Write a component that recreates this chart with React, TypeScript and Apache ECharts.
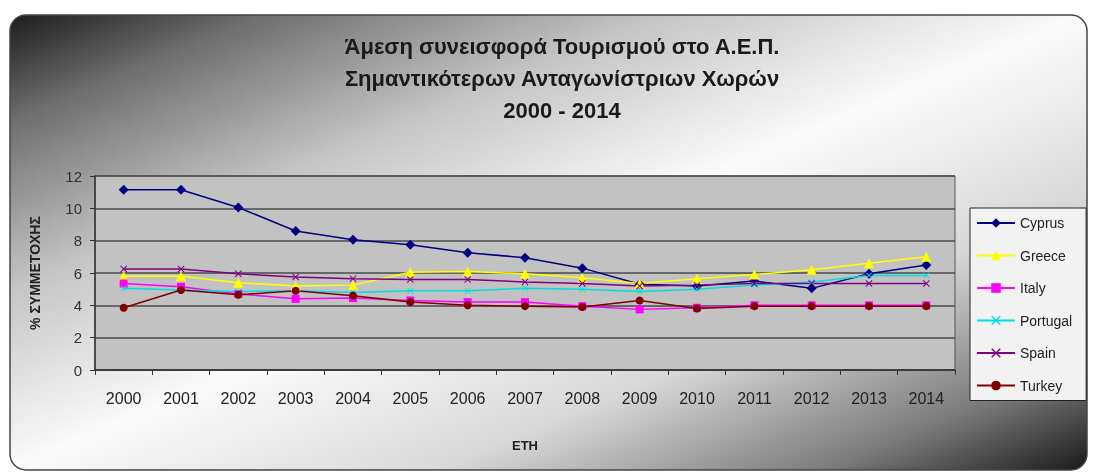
import React, { useEffect, useRef } from "react";
import * as echarts from "echarts";

const years = ["2000","2001","2002","2003","2004","2005","2006","2007","2008","2009","2010","2011","2012","2013","2014"];
const cyprus = [11.15, 11.15, 10.05, 8.6, 8.05, 7.75, 7.25, 6.95, 6.3, 5.3, 5.2, 5.5, 5.05, 5.95, 6.5];
const greece = [5.8, 5.8, 5.4, 5.2, 5.25, 6.05, 6.1, 5.95, 5.7, 5.35, 5.65, 5.9, 6.2, 6.6, 7.0];
const italy = [5.35, 5.15, 4.7, 4.4, 4.45, 4.3, 4.2, 4.2, 3.95, 3.75, 3.85, 4.0, 4.0, 4.0, 4.0];
const portugal = [5.05, 4.95, 4.85, 4.9, 4.8, 4.9, 4.9, 5.05, 5.0, 4.85, 5.0, 5.25, 5.45, 5.85, 5.85];
const spain = [6.25, 6.25, 5.95, 5.75, 5.65, 5.6, 5.6, 5.45, 5.35, 5.2, 5.25, 5.35, 5.35, 5.35, 5.35];
const turkey = [3.85, 4.95, 4.65, 4.9, 4.6, 4.2, 4.0, 3.95, 3.9, 4.3, 3.8, 3.95, 3.95, 3.95, 3.95];
const yTicks = [0, 2, 4, 6, 8, 10, 12];

const xShape = "path://M0,1 L1,0 L5,4 L9,0 L10,1 L6,5 L10,9 L9,10 L5,6 L1,10 L0,9 L4,5 Z";

export default function App() {
  const ref = useRef<HTMLDivElement>(null);
  useEffect(() => {
    if (!ref.current) return;
    const chart = echarts.init(ref.current, undefined, { renderer: "svg" });
    const mk = (name: string, data: number[], color: string, symbol: string, size: number) => ({
      name,
      type: "line",
      data,
      symbol,
      symbolSize: size,
      lineStyle: { color, width: 1.5 },
      itemStyle: { color },
      z: 3,
    });
    chart.setOption({
      animation: false,
      textStyle: { fontFamily: "Liberation Sans, Arial, sans-serif" },
      graphic: [
        {
          type: "rect",
          z: -100,
          silent: true,
          shape: { x: 10, y: 15, width: 1077, height: 455, r: 16 },
          style: {
            stroke: "#444",
            lineWidth: 1.5,
            fill: new echarts.graphic.LinearGradient(0, 0, 1, 1, [
              { offset: 0, color: "#1c1c1c" },
              { offset: 0.12, color: "#707070" },
              { offset: 0.3, color: "#c4c4c4" },
              { offset: 0.5, color: "#fbfbfb" },
              { offset: 0.7, color: "#d8d8d8" },
              { offset: 0.88, color: "#7a7a7a" },
              { offset: 1, color: "#1a1a1a" },
            ]),
          },
        },
      ],
      title: {
        text: "Άμεση συνεισφορά Τουρισμού στο Α.Ε.Π.\nΣημαντικότερων Ανταγωνίστριων Χωρών\n2000 - 2014",
        left: 557,
        top: 25,
        textAlign: "center",
        textStyle: {
          fontFamily: "Liberation Sans, Arial, sans-serif",
          fontSize: 22,
          fontWeight: "bold",
          color: "#1a1a1a",
          lineHeight: 32,
        },
      },
      legend: {
        orient: "vertical",
        left: 970,
        top: 208,
        padding: [8, 14, 8, 6],
        backgroundColor: "#f2f2f2",
        borderColor: "#222",
        borderWidth: 1,
        itemWidth: 38,
        itemHeight: 12,
        itemGap: 18.5,
        textStyle: { fontSize: 14, color: "#222", fontFamily: "Liberation Sans, Arial, sans-serif" },
        data: ["Cyprus", "Greece", "Italy", "Portugal", "Spain", "Turkey"],
      },
      grid: {
        left: 95,
        right: 138,
        top: 176,
        bottom: 103,
        show: true,
        backgroundColor: "#c2c2c2",
        borderColor: "#555",
        borderWidth: 1,
      },
      xAxis: {
        type: "category",
        data: years,
        boundaryGap: true,
        name: "ΕΤΗ",
        nameLocation: "middle",
        nameGap: 69,
        nameTextStyle: { fontSize: 13, fontWeight: "bold", color: "#222" },
        axisLine: { lineStyle: { color: "#333", width: 1.5 } },
        axisTick: { show: true, length: 5, lineStyle: { color: "#333" } },
        axisLabel: { fontSize: 16, color: "#222", margin: 20 },
      },
      yAxis: {
        type: "value",
        min: 0,
        max: 12,
        interval: 2,
        name: "% ΣΥΜΜΕΤΟΧΗΣ",
        nameLocation: "middle",
        nameGap: 53,
        nameTextStyle: { fontSize: 14, fontWeight: "bold", color: "#222" },
        axisLine: { show: true, lineStyle: { color: "#333", width: 1.5 } },
        axisTick: { show: true, length: 5, lineStyle: { color: "#333" } },
        axisLabel: { fontSize: 15, color: "#333", margin: 13, formatter: (v: number) => (yTicks.includes(v) ? String(v) : "") },
        splitLine: { show: true, lineStyle: { color: "#4a4a4a", width: 1.5 } },
      },
      series: [
        mk("Cyprus", cyprus, "#000080", "diamond", 10),
        mk("Greece", greece, "#ffff00", "triangle", 10),
        mk("Italy", italy, "#ff00ff", "rect", 8),
        mk("Portugal", portugal, "#00e0e0", xShape, 6),
        mk("Spain", spain, "#800080", xShape, 7),
        mk("Turkey", turkey, "#800000", "circle", 8),
      ],
    });
    return () => chart.dispose();
  }, []);
  return <div ref={ref} style={{ position: "fixed", left: 0, top: 0, width: 1093, height: 473 }} />;
}
